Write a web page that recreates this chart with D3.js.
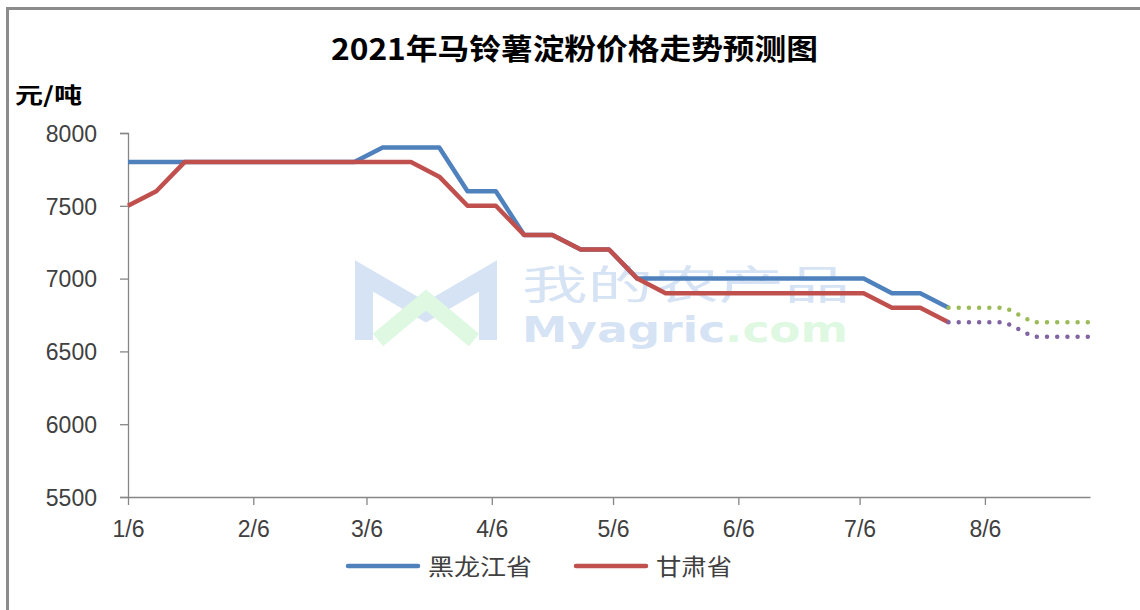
<!DOCTYPE html>
<html>
<head>
<meta charset="utf-8">
<script src="https://cdn.jsdelivr.net/npm/d3@7"></script>
<style>
  html, body { margin: 0; padding: 0; background: #fff; }
  svg { display: block; }
</style>
</head>
<body>
<div id="chart"></div>
<script>
// weekly price dates (category axis)
const dates = [
  '2021-01-06', '2021-01-13', '2021-01-20', '2021-01-27',
  '2021-02-03', '2021-02-10', '2021-02-17', '2021-02-24',
  '2021-03-03', '2021-03-10', '2021-03-17', '2021-03-24', '2021-03-31',
  '2021-04-07', '2021-04-14', '2021-04-21', '2021-04-28',
  '2021-05-05', '2021-05-12', '2021-05-19', '2021-05-26',
  '2021-06-02', '2021-06-09', '2021-06-16', '2021-06-23', '2021-06-30',
  '2021-07-07', '2021-07-14', '2021-07-21', '2021-07-28'
];

const heilongjiang = [
  7800, 7800, 7800, 7800, 7800, 7800, 7800, 7800, 7800, 7900,
  7900, 7900, 7600, 7600, 7300, 7300, 7200, 7200, 7000, 7000,
  7000, 7000, 7000, 7000, 7000, 7000, 7000, 6900, 6900, 6800
];

const gansu = [
  7500, 7600, 7800, 7800, 7800, 7800, 7800, 7800, 7800, 7800,
  7800, 7700, 7500, 7500, 7300, 7300, 7200, 7200, 7000, 6900,
  6900, 6900, 6900, 6900, 6900, 6900, 6900, 6800, 6800, 6700
];

// forecast part (dotted)
const forecastDates = ['2021-07-28', '2021-08-04', '2021-08-11', '2021-08-18', '2021-08-25', '2021-09-01'];
const heilongjiangForecast = [6800, 6800, 6800, 6700, 6700, 6700];
const gansuForecast = [6700, 6700, 6700, 6600, 6600, 6600];

const xTicks = ['2021-01-06', '2021-02-06', '2021-03-06', '2021-04-06', '2021-05-06', '2021-06-06', '2021-07-06', '2021-08-06'];
const xTickLabels = ['1/6', '2/6', '3/6', '4/6', '5/6', '6/6', '7/6', '8/6'];
const yTicks = [5500, 6000, 6500, 7000, 7500, 8000];

const legendItems = [
  { name: '黑龙江省', color: '#4F81BD' },
  { name: '甘肃省', color: '#C0504D' }
];

const W = 1140, H = 610;
const parse = d3.timeParse('%Y-%m-%d');
const numFont = '"Liberation Sans", Arial, sans-serif';
const cjkFont = '"Noto Sans CJK SC", "Noto Sans", sans-serif';

const svg = d3.select('#chart').append('svg').attr('width', W).attr('height', H);

// frame (top + left)
svg.append('rect').attr('x', 6).attr('y', 7).attr('width', W).attr('height', 3).attr('fill', '#8c8c8c');
svg.append('rect').attr('x', 6).attr('y', 7).attr('width', 3).attr('height', H).attr('fill', '#8c8c8c');

const x = d3.scaleTime().domain([parse('2021-01-06'), parse('2021-09-01')]).range([128, 1090]);
const y = d3.scaleLinear().domain([5500, 8000]).range([497, 133]);

// watermark
const wm = svg.append('g').attr('opacity', 0.55);
wm.append('path')
  .attr('d', 'M364,340 L364,276 L426,312 L488,276 L488,340')
  .attr('fill', 'none').attr('stroke', '#b4cdee').attr('stroke-width', 18).attr('stroke-linejoin', 'miter');
wm.append('path')
  .attr('d', 'M378,340 L426,300 L474,340')
  .attr('fill', 'none').attr('stroke', '#c4f3cc').attr('stroke-width', 16);
wm.append('text').attr('x', 522).attr('y', 299).attr('font-family', cjkFont)
  .attr('font-size', 40).attr('fill', '#b4cdee').attr('textLength', 328).attr('lengthAdjust', 'spacingAndGlyphs')
  .text('我的农产品');
const wmText = wm.append('text').attr('x', 522).attr('y', 342).attr('font-family', '"DejaVu Sans", sans-serif')
  .attr('font-size', 36).attr('font-weight', 'bold').attr('textLength', 326).attr('lengthAdjust', 'spacingAndGlyphs');
wmText.append('tspan').attr('fill', '#b4cdee').text('Myagric');
wmText.append('tspan').attr('fill', '#c4f3cc').text('.com');

// y axis
const yAxis = svg.append('g')
  .attr('transform', 'translate(128,0)')
  .call(d3.axisLeft(y).tickValues(yTicks).tickSize(8).tickPadding(23).tickFormat(d3.format('d')));
yAxis.select('.domain').attr('stroke', '#868686').attr('stroke-width', 1.3);
yAxis.selectAll('.tick line').attr('stroke', '#868686').attr('stroke-width', 1.3);
yAxis.selectAll('.tick text')
  .attr('font-family', numFont).attr('font-size', 23).attr('fill', '#404040').attr('dy', '0.36em');

// x axis
const xAxis = svg.append('g')
  .attr('transform', 'translate(0,497)')
  .call(d3.axisBottom(x).tickValues(xTicks.map(parse)).tickSize(8).tickSizeOuter(0).tickPadding(16)
    .tickFormat((d, i) => xTickLabels[i]));
xAxis.select('.domain').attr('stroke', '#868686').attr('stroke-width', 1.3);
xAxis.selectAll('.tick line').attr('stroke', '#868686').attr('stroke-width', 1.3);
xAxis.selectAll('.tick text')
  .attr('font-family', numFont).attr('font-size', 23).attr('fill', '#404040');

// lines
const line = d3.line().x(d => x(d[0])).y(d => y(d[1]));
const zipped = (ds, vs) => ds.map((d, i) => [parse(d), vs[i]]);

const series = [
  { data: zipped(dates, heilongjiang), color: '#4F81BD', dash: null },
  { data: zipped(dates, gansu), color: '#C0504D', dash: null },
  { data: zipped(forecastDates, heilongjiangForecast), color: '#9BBB59', dash: '0,10.2' },
  { data: zipped(forecastDates, gansuForecast), color: '#8064A2', dash: '0,10.2' }
];

svg.append('g').selectAll('path').data(series).join('path')
  .attr('d', d => line(d.data))
  .attr('fill', 'none')
  .attr('stroke', d => d.color)
  .attr('stroke-width', 4.5)
  .attr('stroke-linecap', d => d.dash ? 'round' : 'butt')
  .attr('stroke-linejoin', 'round')
  .attr('stroke-dasharray', d => d.dash);

// title
svg.append('text')
  .attr('x', 331).attr('y', 60)
  .attr('font-family', cjkFont).attr('font-weight', 'bold').attr('font-size', 29)
  .attr('fill', '#000')
  .attr('textLength', 487).attr('lengthAdjust', 'spacingAndGlyphs')
  .text('2021年马铃薯淀粉价格走势预测图');

// unit label
svg.append('text')
  .attr('x', 15).attr('y', 103)
  .attr('font-family', cjkFont).attr('font-weight', 'bold').attr('font-size', 22)
  .attr('fill', '#000')
  .attr('textLength', 67).attr('lengthAdjust', 'spacingAndGlyphs')
  .text('元/吨');

// legend
const legendX = [348, 576];
const legendW = [104, 76];
const legend = svg.append('g').selectAll('g').data(legendItems).join('g')
  .attr('transform', (d, i) => `translate(${legendX[i]},566)`);
legend.append('line')
  .attr('x1', 0).attr('x2', 70).attr('y1', 0).attr('y2', 0)
  .attr('stroke', d => d.color).attr('stroke-width', 4.5).attr('stroke-linecap', 'round');
legend.append('text')
  .attr('x', 80).attr('y', 9)
  .attr('font-family', cjkFont).attr('font-size', 23).attr('fill', '#404040')
  .attr('textLength', (d, i) => legendW[i]).attr('lengthAdjust', 'spacingAndGlyphs')
  .text(d => d.name);
</script>
</body>
</html>
